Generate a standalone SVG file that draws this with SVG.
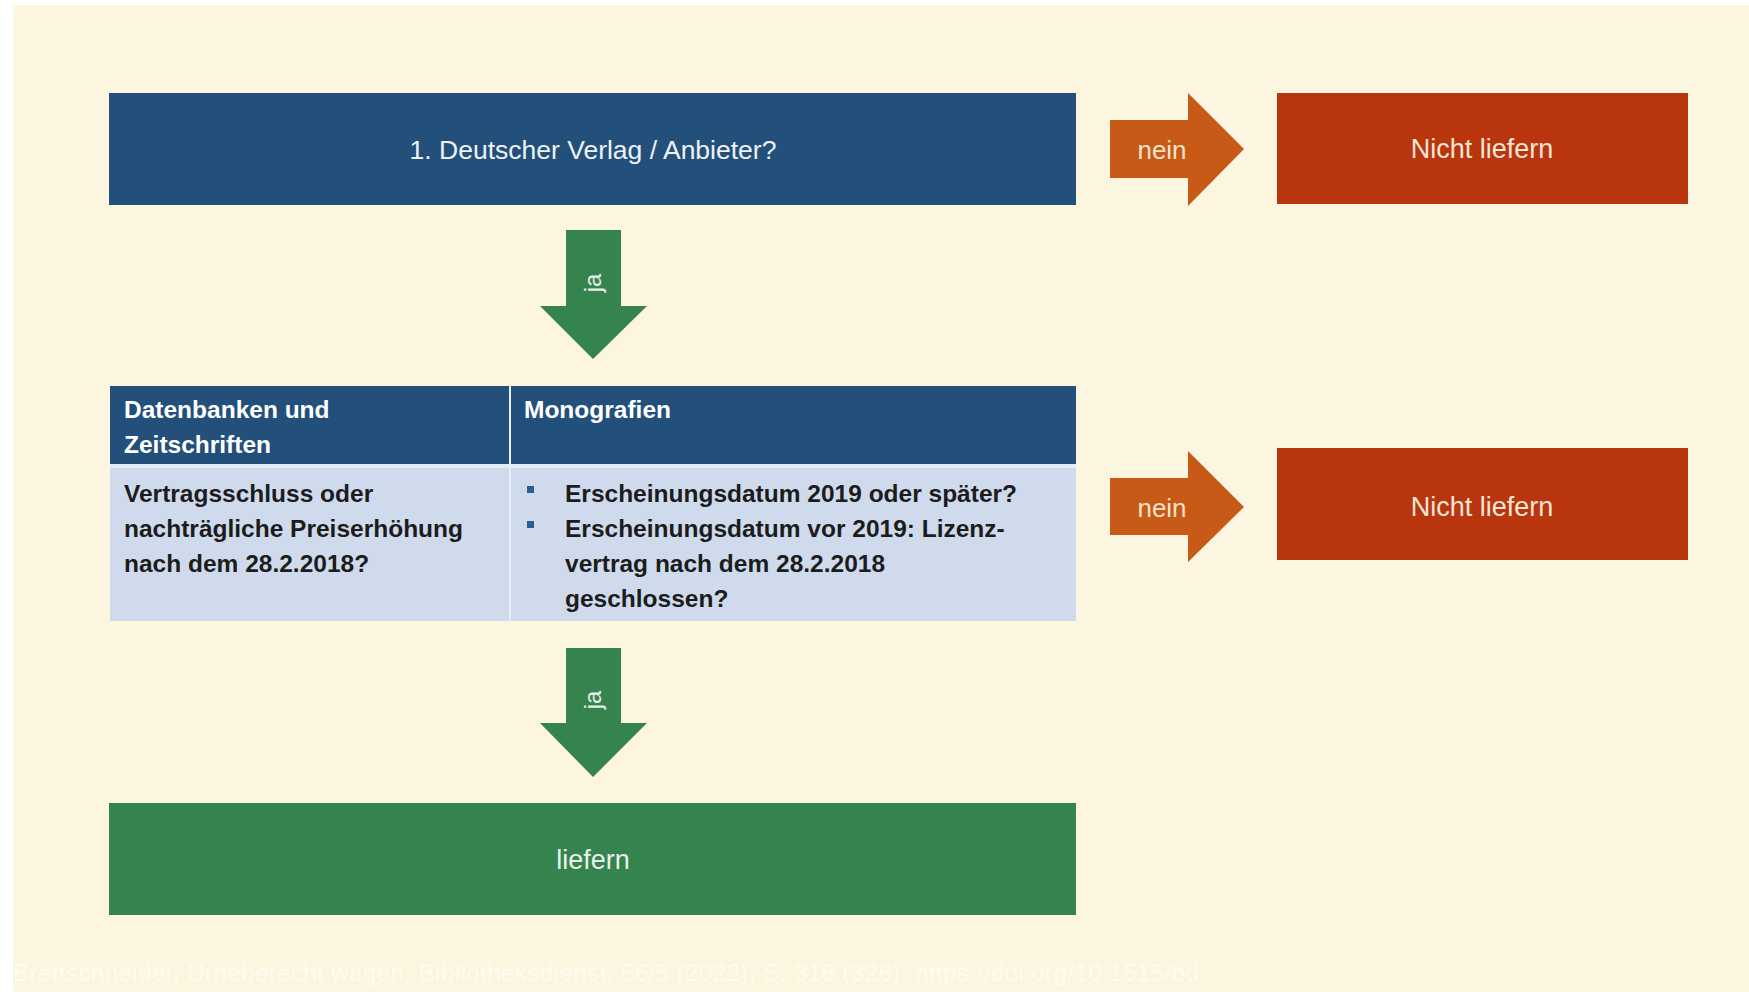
<svg xmlns="http://www.w3.org/2000/svg" width="1749" height="992" viewBox="0 0 1749 992">
<style>
text { font-family: "Liberation Sans", Arial, sans-serif; }
.blue { fill: #22507b; }
.red { fill: #b9350d; }
.green { fill: #35844f; }
.orange { fill: #c75a17; }
.lt { fill: #eef2f6; font-size: 26.5px; text-anchor: middle; }
.rt { fill: #f7e6d6; font-size: 27px; text-anchor: middle; }
.nein { fill: #f6e2cc; font-size: 26px; text-anchor: middle; }
.ja { fill: #e6f0e6; font-size: 24px; text-anchor: middle; }
.th { fill: #ffffff; font-size: 24.5px; font-weight: bold; }
.td { fill: #1c1c1c; font-size: 24.5px; font-weight: bold; }
</style>
<rect x="0" y="0" width="1749" height="992" fill="#ffffff"/>
<rect x="13" y="5" width="1736" height="987" fill="#fcf5df"/>

<g id="q1">
<rect class="blue" x="109" y="93" width="967" height="112"/>
<text class="lt" x="593" y="159">1. Deutscher Verlag / Anbieter?</text>
</g>

<g id="no1">
<rect class="red" x="1277" y="93" width="411" height="111"/>
<text class="rt" x="1482" y="158">Nicht liefern</text>
</g>

<g id="table">
<rect class="blue" x="110" y="386" width="966" height="80"/>
<rect x="110" y="466" width="966" height="155" fill="#cfdbed"/>
<rect x="110" y="464" width="966" height="4" fill="#e4ecf6"/>
<rect x="509" y="386" width="2" height="235" fill="#e8eef6"/>
<text class="th" x="124" y="418">Datenbanken und</text>
<text class="th" x="124" y="453">Zeitschriften</text>
<text class="th" x="524" y="418">Monografien</text>
<text class="td" x="124" y="502">Vertragsschluss oder</text>
<text class="td" x="124" y="537">nachträgliche Preiserhöhung</text>
<text class="td" x="124" y="572">nach dem 28.2.2018?</text>
<rect x="527" y="486" width="7" height="7" fill="#2b5d90"/>
<rect x="527" y="521" width="7" height="7" fill="#2b5d90"/>
<text class="td" x="565" y="502">Erscheinungsdatum 2019 oder später?</text>
<text class="td" x="565" y="537">Erscheinungsdatum vor 2019: Lizenz-</text>
<text class="td" x="565" y="572">vertrag nach dem 28.2.2018</text>
<text class="td" x="565" y="607">geschlossen?</text>
</g>

<g id="no2">
<rect class="red" x="1277" y="448" width="411" height="112"/>
<text class="rt" x="1482" y="516">Nicht liefern</text>
</g>

<g id="yes">
<rect class="green" x="109" y="803" width="967" height="112"/>
<text class="lt" x="593" y="869" style="fill:#eaf2ea;font-size:27px">liefern</text>
</g>

<g id="connectors">
<polygon class="orange" points="1110,120 1188,120 1188,93 1244,149 1188,206 1188,178 1110,178"/>
<text class="nein" x="1162" y="159">nein</text>
<polygon class="orange" points="1110,478 1188,478 1188,451 1244,507 1188,562 1188,535 1110,535"/>
<text class="nein" x="1162" y="517">nein</text>
<polygon class="green" points="566,230 621,230 621,306 647,306 593,359 540,306 566,306"/>
<text class="ja" transform="translate(601,283) rotate(-90)">ja</text>
<polygon class="green" points="566,648 621,648 621,723 647,723 593,777 540,723 566,723"/>
<text class="ja" transform="translate(601,700) rotate(-90)">ja</text>
</g>

<text x="13" y="981" font-size="24" fill="#fffbef" textLength="1186" lengthAdjust="spacing">Brettschneider, Urheberecht wagen, Bibliotheksdienst, 56/5 (2022),  S. 316 (326). https://doi.org/10.1515/bd</text>
</svg>
